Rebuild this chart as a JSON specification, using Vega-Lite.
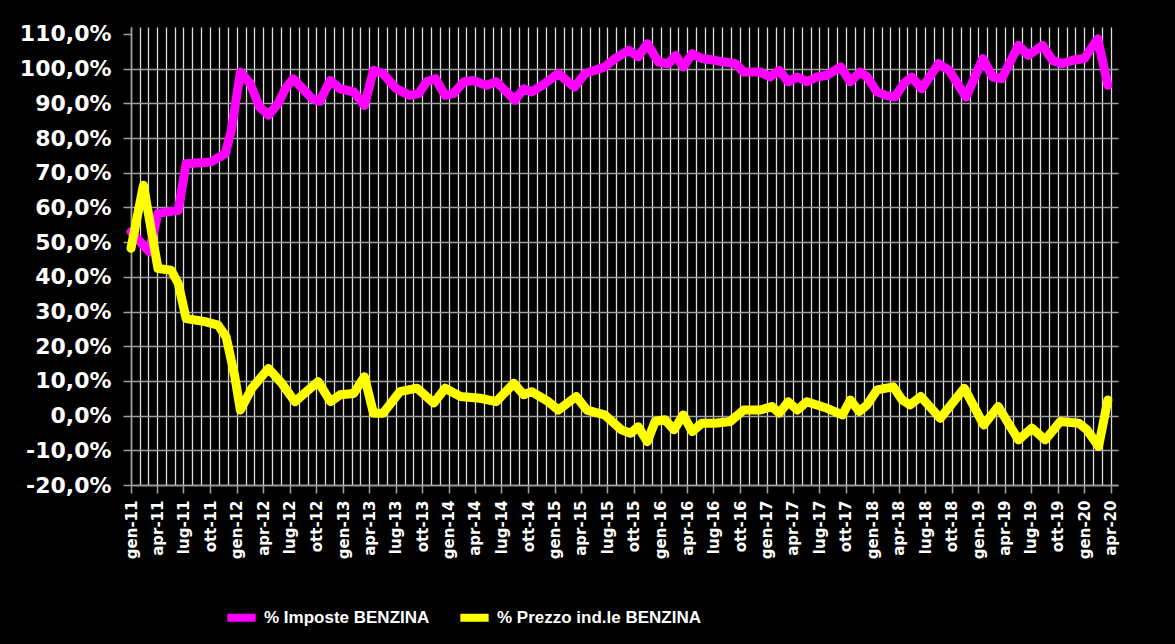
{
  "$schema": "https://vega.github.io/schema/vega-lite/v6.json",
  "width": 987,
  "height": 458,
  "autosize": {"type": "none"},
  "padding": {"left": 131, "top": 27, "right": 57, "bottom": 159},
  "background": "#000000",
  "config": {"view": {"stroke": null}},
  "data": {
    "values": [
      {"data": "2011-01-01", "serie": "% Imposte BENZINA", "valore": 53.0},
      {"data": "2011-03-05", "serie": "% Imposte BENZINA", "valore": 47.2},
      {"data": "2011-04-04", "serie": "% Imposte BENZINA", "valore": 58.3},
      {"data": "2011-06-13", "serie": "% Imposte BENZINA", "valore": 59.2},
      {"data": "2011-07-10", "serie": "% Imposte BENZINA", "valore": 72.6},
      {"data": "2011-10-04", "serie": "% Imposte BENZINA", "valore": 73.1},
      {"data": "2011-11-22", "serie": "% Imposte BENZINA", "valore": 75.5},
      {"data": "2011-12-13", "serie": "% Imposte BENZINA", "valore": 82.2},
      {"data": "2012-01-13", "serie": "% Imposte BENZINA", "valore": 99.0},
      {"data": "2012-02-16", "serie": "% Imposte BENZINA", "valore": 95.7},
      {"data": "2012-03-19", "serie": "% Imposte BENZINA", "valore": 89.0},
      {"data": "2012-04-19", "serie": "% Imposte BENZINA", "valore": 86.6},
      {"data": "2012-05-22", "serie": "% Imposte BENZINA", "valore": 89.9},
      {"data": "2012-06-16", "serie": "% Imposte BENZINA", "valore": 94.2},
      {"data": "2012-07-13", "serie": "% Imposte BENZINA", "valore": 97.1},
      {"data": "2012-08-10", "serie": "% Imposte BENZINA", "valore": 94.7},
      {"data": "2012-09-16", "serie": "% Imposte BENZINA", "valore": 91.4},
      {"data": "2012-10-13", "serie": "% Imposte BENZINA", "valore": 90.6},
      {"data": "2012-11-18", "serie": "% Imposte BENZINA", "valore": 96.6},
      {"data": "2012-12-22", "serie": "% Imposte BENZINA", "valore": 94.2},
      {"data": "2013-02-07", "serie": "% Imposte BENZINA", "valore": 93.3},
      {"data": "2013-03-16", "serie": "% Imposte BENZINA", "valore": 89.4},
      {"data": "2013-04-16", "serie": "% Imposte BENZINA", "valore": 99.5},
      {"data": "2013-05-19", "serie": "% Imposte BENZINA", "valore": 98.6},
      {"data": "2013-07-04", "serie": "% Imposte BENZINA", "valore": 94.2},
      {"data": "2013-08-19", "serie": "% Imposte BENZINA", "valore": 92.3},
      {"data": "2013-09-19", "serie": "% Imposte BENZINA", "valore": 92.8},
      {"data": "2013-10-16", "serie": "% Imposte BENZINA", "valore": 96.2},
      {"data": "2013-11-16", "serie": "% Imposte BENZINA", "valore": 97.1},
      {"data": "2013-12-19", "serie": "% Imposte BENZINA", "valore": 92.3},
      {"data": "2014-01-16", "serie": "% Imposte BENZINA", "valore": 92.8},
      {"data": "2014-02-22", "serie": "% Imposte BENZINA", "valore": 96.2},
      {"data": "2014-03-25", "serie": "% Imposte BENZINA", "valore": 96.6},
      {"data": "2014-05-10", "serie": "% Imposte BENZINA", "valore": 95.2},
      {"data": "2014-06-13", "serie": "% Imposte BENZINA", "valore": 96.2},
      {"data": "2014-07-19", "serie": "% Imposte BENZINA", "valore": 93.3},
      {"data": "2014-08-16", "serie": "% Imposte BENZINA", "valore": 90.9},
      {"data": "2014-09-16", "serie": "% Imposte BENZINA", "valore": 94.2},
      {"data": "2014-10-13", "serie": "% Imposte BENZINA", "valore": 93.3},
      {"data": "2014-11-19", "serie": "% Imposte BENZINA", "valore": 95.2},
      {"data": "2015-01-13", "serie": "% Imposte BENZINA", "valore": 98.6},
      {"data": "2015-03-10", "serie": "% Imposte BENZINA", "valore": 94.7},
      {"data": "2015-04-16", "serie": "% Imposte BENZINA", "valore": 98.6},
      {"data": "2015-06-22", "serie": "% Imposte BENZINA", "valore": 100.5},
      {"data": "2015-07-28", "serie": "% Imposte BENZINA", "valore": 102.9},
      {"data": "2015-09-13", "serie": "% Imposte BENZINA", "valore": 105.3},
      {"data": "2015-10-16", "serie": "% Imposte BENZINA", "valore": 103.4},
      {"data": "2015-11-16", "serie": "% Imposte BENZINA", "valore": 107.2},
      {"data": "2015-12-25", "serie": "% Imposte BENZINA", "valore": 101.9},
      {"data": "2016-01-28", "serie": "% Imposte BENZINA", "valore": 101.4},
      {"data": "2016-02-22", "serie": "% Imposte BENZINA", "valore": 103.8},
      {"data": "2016-03-19", "serie": "% Imposte BENZINA", "valore": 100.5},
      {"data": "2016-04-19", "serie": "% Imposte BENZINA", "valore": 104.3},
      {"data": "2016-05-22", "serie": "% Imposte BENZINA", "valore": 102.9},
      {"data": "2016-07-07", "serie": "% Imposte BENZINA", "valore": 102.4},
      {"data": "2016-08-07", "serie": "% Imposte BENZINA", "valore": 101.9},
      {"data": "2016-09-16", "serie": "% Imposte BENZINA", "valore": 101.4},
      {"data": "2016-10-13", "serie": "% Imposte BENZINA", "valore": 99.0},
      {"data": "2016-12-10", "serie": "% Imposte BENZINA", "valore": 99.0},
      {"data": "2017-01-13", "serie": "% Imposte BENZINA", "valore": 97.6},
      {"data": "2017-02-13", "serie": "% Imposte BENZINA", "valore": 99.5},
      {"data": "2017-03-16", "serie": "% Imposte BENZINA", "valore": 96.2},
      {"data": "2017-04-16", "serie": "% Imposte BENZINA", "valore": 97.6},
      {"data": "2017-05-19", "serie": "% Imposte BENZINA", "valore": 96.2},
      {"data": "2017-06-22", "serie": "% Imposte BENZINA", "valore": 97.6},
      {"data": "2017-07-28", "serie": "% Imposte BENZINA", "valore": 98.1},
      {"data": "2017-09-13", "serie": "% Imposte BENZINA", "valore": 100.5},
      {"data": "2017-10-16", "serie": "% Imposte BENZINA", "valore": 96.2},
      {"data": "2017-11-19", "serie": "% Imposte BENZINA", "valore": 99.0},
      {"data": "2017-12-13", "serie": "% Imposte BENZINA", "valore": 97.6},
      {"data": "2018-01-16", "serie": "% Imposte BENZINA", "valore": 93.3},
      {"data": "2018-02-16", "serie": "% Imposte BENZINA", "valore": 92.3},
      {"data": "2018-03-19", "serie": "% Imposte BENZINA", "valore": 91.8},
      {"data": "2018-04-19", "serie": "% Imposte BENZINA", "valore": 95.7},
      {"data": "2018-05-16", "serie": "% Imposte BENZINA", "valore": 97.6},
      {"data": "2018-06-19", "serie": "% Imposte BENZINA", "valore": 94.2},
      {"data": "2018-08-16", "serie": "% Imposte BENZINA", "valore": 101.4},
      {"data": "2018-09-22", "serie": "% Imposte BENZINA", "valore": 99.5},
      {"data": "2018-11-19", "serie": "% Imposte BENZINA", "valore": 91.8},
      {"data": "2019-01-16", "serie": "% Imposte BENZINA", "valore": 102.9},
      {"data": "2019-02-19", "serie": "% Imposte BENZINA", "valore": 97.6},
      {"data": "2019-03-22", "serie": "% Imposte BENZINA", "valore": 97.1},
      {"data": "2019-05-19", "serie": "% Imposte BENZINA", "valore": 106.7},
      {"data": "2019-06-22", "serie": "% Imposte BENZINA", "valore": 103.8},
      {"data": "2019-08-10", "serie": "% Imposte BENZINA", "valore": 106.7},
      {"data": "2019-09-13", "serie": "% Imposte BENZINA", "valore": 102.4},
      {"data": "2019-10-16", "serie": "% Imposte BENZINA", "valore": 101.4},
      {"data": "2019-11-22", "serie": "% Imposte BENZINA", "valore": 102.4},
      {"data": "2020-01-01", "serie": "% Imposte BENZINA", "valore": 102.9},
      {"data": "2020-02-16", "serie": "% Imposte BENZINA", "valore": 108.6},
      {"data": "2020-03-22", "serie": "% Imposte BENZINA", "valore": 95.2},

      {"data": "2011-01-01", "serie": "% Prezzo ind.le BENZINA", "valore": 48.2},
      {"data": "2011-02-13", "serie": "% Prezzo ind.le BENZINA", "valore": 66.4},
      {"data": "2011-04-04", "serie": "% Prezzo ind.le BENZINA", "valore": 42.4},
      {"data": "2011-05-19", "serie": "% Prezzo ind.le BENZINA", "valore": 41.9},
      {"data": "2011-06-13", "serie": "% Prezzo ind.le BENZINA", "valore": 38.1},
      {"data": "2011-07-10", "serie": "% Prezzo ind.le BENZINA", "valore": 28.0},
      {"data": "2011-09-13", "serie": "% Prezzo ind.le BENZINA", "valore": 27.1},
      {"data": "2011-10-28", "serie": "% Prezzo ind.le BENZINA", "valore": 26.1},
      {"data": "2011-11-25", "serie": "% Prezzo ind.le BENZINA", "valore": 22.7},
      {"data": "2011-12-25", "serie": "% Prezzo ind.le BENZINA", "valore": 11.2},
      {"data": "2012-01-13", "serie": "% Prezzo ind.le BENZINA", "valore": 1.6},
      {"data": "2012-02-22", "serie": "% Prezzo ind.le BENZINA", "valore": 7.9},
      {"data": "2012-04-19", "serie": "% Prezzo ind.le BENZINA", "valore": 13.6},
      {"data": "2012-06-04", "serie": "% Prezzo ind.le BENZINA", "valore": 9.3},
      {"data": "2012-07-19", "serie": "% Prezzo ind.le BENZINA", "valore": 4.0},
      {"data": "2012-08-28", "serie": "% Prezzo ind.le BENZINA", "valore": 6.9},
      {"data": "2012-10-07", "serie": "% Prezzo ind.le BENZINA", "valore": 9.8},
      {"data": "2012-11-19", "serie": "% Prezzo ind.le BENZINA", "valore": 4.0},
      {"data": "2012-12-22", "serie": "% Prezzo ind.le BENZINA", "valore": 6.0},
      {"data": "2013-02-07", "serie": "% Prezzo ind.le BENZINA", "valore": 6.4},
      {"data": "2013-03-16", "serie": "% Prezzo ind.le BENZINA", "valore": 11.2},
      {"data": "2013-04-16", "serie": "% Prezzo ind.le BENZINA", "valore": 0.7},
      {"data": "2013-05-19", "serie": "% Prezzo ind.le BENZINA", "valore": 0.7},
      {"data": "2013-07-16", "serie": "% Prezzo ind.le BENZINA", "valore": 6.9},
      {"data": "2013-09-13", "serie": "% Prezzo ind.le BENZINA", "valore": 7.9},
      {"data": "2013-11-10", "serie": "% Prezzo ind.le BENZINA", "valore": 3.6},
      {"data": "2013-12-19", "serie": "% Prezzo ind.le BENZINA", "valore": 7.9},
      {"data": "2014-02-10", "serie": "% Prezzo ind.le BENZINA", "valore": 5.5},
      {"data": "2014-04-19", "serie": "% Prezzo ind.le BENZINA", "valore": 5.0},
      {"data": "2014-06-13", "serie": "% Prezzo ind.le BENZINA", "valore": 4.0},
      {"data": "2014-08-13", "serie": "% Prezzo ind.le BENZINA", "valore": 9.3},
      {"data": "2014-09-16", "serie": "% Prezzo ind.le BENZINA", "valore": 6.0},
      {"data": "2014-10-13", "serie": "% Prezzo ind.le BENZINA", "valore": 6.9},
      {"data": "2014-12-10", "serie": "% Prezzo ind.le BENZINA", "valore": 4.0},
      {"data": "2015-01-13", "serie": "% Prezzo ind.le BENZINA", "valore": 1.6},
      {"data": "2015-03-16", "serie": "% Prezzo ind.le BENZINA", "valore": 5.5},
      {"data": "2015-04-22", "serie": "% Prezzo ind.le BENZINA", "valore": 1.6},
      {"data": "2015-06-22", "serie": "% Prezzo ind.le BENZINA", "valore": 0.2},
      {"data": "2015-08-19", "serie": "% Prezzo ind.le BENZINA", "valore": -4.1},
      {"data": "2015-09-19", "serie": "% Prezzo ind.le BENZINA", "valore": -5.1},
      {"data": "2015-10-16", "serie": "% Prezzo ind.le BENZINA", "valore": -3.2},
      {"data": "2015-11-16", "serie": "% Prezzo ind.le BENZINA", "valore": -7.5},
      {"data": "2015-12-13", "serie": "% Prezzo ind.le BENZINA", "valore": -1.7},
      {"data": "2016-01-16", "serie": "% Prezzo ind.le BENZINA", "valore": -1.2},
      {"data": "2016-02-16", "serie": "% Prezzo ind.le BENZINA", "valore": -4.1},
      {"data": "2016-03-19", "serie": "% Prezzo ind.le BENZINA", "valore": 0.2},
      {"data": "2016-04-19", "serie": "% Prezzo ind.le BENZINA", "valore": -4.6},
      {"data": "2016-05-22", "serie": "% Prezzo ind.le BENZINA", "valore": -2.2},
      {"data": "2016-07-07", "serie": "% Prezzo ind.le BENZINA", "valore": -2.2},
      {"data": "2016-08-28", "serie": "% Prezzo ind.le BENZINA", "valore": -1.7},
      {"data": "2016-10-13", "serie": "% Prezzo ind.le BENZINA", "valore": 1.6},
      {"data": "2016-12-10", "serie": "% Prezzo ind.le BENZINA", "valore": 1.6},
      {"data": "2017-01-19", "serie": "% Prezzo ind.le BENZINA", "valore": 2.6},
      {"data": "2017-02-13", "serie": "% Prezzo ind.le BENZINA", "valore": 0.7},
      {"data": "2017-03-16", "serie": "% Prezzo ind.le BENZINA", "valore": 4.0},
      {"data": "2017-04-16", "serie": "% Prezzo ind.le BENZINA", "valore": 1.6},
      {"data": "2017-05-19", "serie": "% Prezzo ind.le BENZINA", "valore": 4.0},
      {"data": "2017-07-28", "serie": "% Prezzo ind.le BENZINA", "valore": 2.1},
      {"data": "2017-09-19", "serie": "% Prezzo ind.le BENZINA", "valore": 0.2},
      {"data": "2017-10-16", "serie": "% Prezzo ind.le BENZINA", "valore": 4.5},
      {"data": "2017-11-16", "serie": "% Prezzo ind.le BENZINA", "valore": 1.2},
      {"data": "2017-12-13", "serie": "% Prezzo ind.le BENZINA", "valore": 3.1},
      {"data": "2018-01-16", "serie": "% Prezzo ind.le BENZINA", "valore": 7.4},
      {"data": "2018-03-13", "serie": "% Prezzo ind.le BENZINA", "valore": 8.3},
      {"data": "2018-04-13", "serie": "% Prezzo ind.le BENZINA", "valore": 4.5},
      {"data": "2018-05-10", "serie": "% Prezzo ind.le BENZINA", "valore": 3.1},
      {"data": "2018-06-16", "serie": "% Prezzo ind.le BENZINA", "valore": 5.5},
      {"data": "2018-08-22", "serie": "% Prezzo ind.le BENZINA", "valore": -0.8},
      {"data": "2018-11-13", "serie": "% Prezzo ind.le BENZINA", "valore": 7.9},
      {"data": "2019-01-19", "serie": "% Prezzo ind.le BENZINA", "valore": -2.7},
      {"data": "2019-03-10", "serie": "% Prezzo ind.le BENZINA", "valore": 2.6},
      {"data": "2019-05-19", "serie": "% Prezzo ind.le BENZINA", "valore": -7.0},
      {"data": "2019-07-04", "serie": "% Prezzo ind.le BENZINA", "valore": -3.6},
      {"data": "2019-08-19", "serie": "% Prezzo ind.le BENZINA", "valore": -7.0},
      {"data": "2019-10-10", "serie": "% Prezzo ind.le BENZINA", "valore": -1.7},
      {"data": "2019-12-13", "serie": "% Prezzo ind.le BENZINA", "valore": -2.2},
      {"data": "2020-01-10", "serie": "% Prezzo ind.le BENZINA", "valore": -4.1},
      {"data": "2020-02-19", "serie": "% Prezzo ind.le BENZINA", "valore": -8.9},
      {"data": "2020-03-22", "serie": "% Prezzo ind.le BENZINA", "valore": 4.5}
    ]
  },
  "encoding": {
    "x": {
      "field": "data",
      "type": "temporal",
      "scale": {
        "type": "utc",
        "domain": [
          {"year": 2011, "month": 1, "date": 1, "utc": true},
          {"year": 2020, "month": 4, "date": 26, "utc": true}
        ]
      },
      "axis": {
        "title": null,
        "tickCount": {"interval": "month", "step": 1},
        "grid": true,
        "gridColor": "#dcdcdc",
        "gridWidth": 1.3,
        "domainColor": "#a0a0a0",
        "domainWidth": 1.5,
        "tickColor": "#a0a0a0",
        "tickWidth": 1.5,
        "tickSize": 8,
        "tickOpacity": {"condition": {"test": "utcmonth(datum.value) % 3 == 0", "value": 1}, "value": 0},
        "labelExpr": "utcmonth(datum.value) % 3 == 0 ? ['gen','feb','mar','apr','mag','giu','lug','ago','set','ott','nov','dic'][utcmonth(datum.value)] + '-' + utcFormat(datum.value, '%y') : ''",
        "labelAngle": -90,
        "labelColor": "#ffffff",
        "labelFont": "DejaVu Sans",
        "labelFontWeight": "bold",
        "labelFontSize": 15,
        "labelPadding": 7,
        "labelOverlap": false,
        "labelFlush": false,
        "labelBound": false
      }
    },
    "y": {
      "field": "valore",
      "type": "quantitative",
      "scale": {"domain": [-20, 112], "nice": false, "zero": false},
      "axis": {
        "title": null,
        "values": [-20, -10, 0, 10, 20, 30, 40, 50, 60, 70, 80, 90, 100, 110],
        "grid": true,
        "gridColor": "#a0a0a0",
        "gridWidth": 1.5,
        "gridOpacity": {"condition": {"test": "datum.value == 110", "value": 0}, "value": 1},
        "domainColor": "#a0a0a0",
        "domainWidth": 1.5,
        "tickColor": "#a0a0a0",
        "tickWidth": 1.5,
        "tickSize": 8,
        "labelExpr": "(datum.value < 0 ? '-' : '') + replace(format(abs(datum.value), '.1f'), '.', ',') + '%'",
        "labelColor": "#ffffff",
        "labelFont": "DejaVu Sans",
        "labelFontWeight": "bold",
        "labelFontSize": 22,
        "labelPadding": 12
      }
    },
    "color": {
      "field": "serie",
      "type": "nominal",
      "scale": {
        "domain": ["% Imposte BENZINA", "% Prezzo ind.le BENZINA"],
        "range": ["#ff00ff", "#ffff00"]
      },
      "legend": {
        "orient": "none",
        "legendX": 92,
        "legendY": 572,
        "direction": "horizontal",
        "title": null,
        "labelColor": "#ffffff",
        "labelFont": "Liberation Sans",
        "labelFontWeight": "bold",
        "labelFontSize": 17,
        "labelLimit": 400,
        "labelOffset": 4,
        "columnPadding": 14,
        "symbolType": "stroke",
        "symbolStrokeWidth": 8,
        "symbolSize": 800
      }
    }
  },
  "layer": [
    {
      "transform": [{"filter": "datum.serie === '% Imposte BENZINA'"}],
      "mark": {"type": "line", "strokeWidth": 9, "strokeJoin": "round", "strokeCap": "round"}
    },
    {
      "transform": [{"filter": "datum.serie === '% Prezzo ind.le BENZINA'"}],
      "mark": {"type": "line", "strokeWidth": 9, "strokeJoin": "round", "strokeCap": "round"}
    }
  ]
}
